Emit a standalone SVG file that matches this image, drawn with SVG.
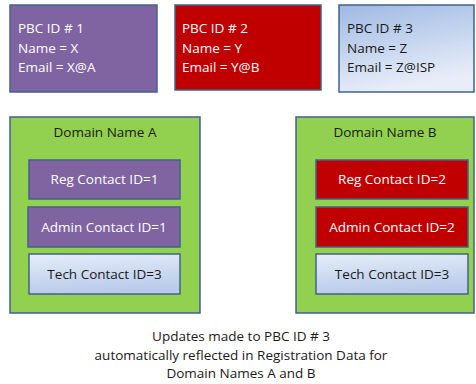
<svg xmlns="http://www.w3.org/2000/svg" width="476" height="384" viewBox="0 0 476 384">
<defs>
<linearGradient id="g3" x1="0" y1="0" x2="0.3" y2="1">
<stop offset="0" stop-color="#9fb9e3"/>
<stop offset="1" stop-color="#e8eef8"/>
</linearGradient>
<linearGradient id="gt" x1="0" y1="0" x2="0.2" y2="1">
<stop offset="0" stop-color="#e6edf8"/>
<stop offset="1" stop-color="#b8cbea"/>
</linearGradient>
<style>
rect{stroke:#41618f;stroke-width:1.5}
.pur{fill:#8064a2}
.red{fill:#c00000}
.grn{fill:#92d050}
.lb{fill:url(#g3)}
.tb{fill:url(#gt)}
text{font-family:"Open Sans","Liberation Sans",sans-serif;font-size:13.5px}
.w{fill:#ffffff}
.k{fill:#1a1a1a}
.c{text-anchor:middle}
</style>
</defs>
<g id="pbc1">
<rect class="pur" x="10" y="5" width="147" height="87"/>
<text class="w" x="18" y="33">PBC ID # 1</text>
<text class="w" x="18" y="53">Name = X</text>
<text class="w" x="18" y="72">Email = X@A</text>
</g>
<g id="pbc2">
<rect class="red" x="175" y="5" width="146" height="85"/>
<text class="w" x="182" y="33">PBC ID # 2</text>
<text class="w" x="182" y="53">Name = Y</text>
<text class="w" x="182" y="72">Email = Y@B</text>
</g>
<g id="pbc3">
<rect class="lb" x="339" y="5" width="135" height="87"/>
<text class="k" x="347" y="33">PBC ID # 3</text>
<text class="k" x="347" y="53">Name = Z</text>
<text class="k" x="347" y="72">Email = Z@ISP</text>
</g>
<g id="domainA">
<rect class="grn" x="10" y="117" width="190" height="196"/>
<text class="k c" x="105" y="137">Domain Name A</text>
</g>
<g id="regA">
<rect class="pur" x="29" y="160" width="151" height="39"/>
<text class="w c" x="104.5" y="184">Reg Contact ID=1</text>
</g>
<g id="adminA">
<rect class="pur" x="28" y="207" width="152" height="40"/>
<text class="w c" x="104" y="232">Admin Contact ID=1</text>
</g>
<g id="techA">
<rect class="tb" x="29" y="254" width="151" height="40"/>
<text class="k c" x="104.5" y="279">Tech Contact ID=3</text>
</g>
<g id="domainB">
<rect class="grn" x="296" y="117" width="178" height="196"/>
<text class="k c" x="385" y="137">Domain Name B</text>
</g>
<g id="regB">
<rect class="red" x="316" y="160" width="152" height="39"/>
<text class="w c" x="392" y="184">Reg Contact ID=2</text>
</g>
<g id="adminB">
<rect class="red" x="316" y="207" width="152" height="40"/>
<text class="w c" x="392" y="232">Admin Contact ID=2</text>
</g>
<g id="techB">
<rect class="tb" x="316" y="254" width="152" height="40"/>
<text class="k c" x="392" y="279">Tech Contact ID=3</text>
</g>
<g id="connectors"></g>
<g id="caption">
<text class="k c" x="241" y="341">Updates made to PBC ID # 3</text>
<text class="k c" x="241" y="360">automatically reflected in Registration Data for</text>
<text class="k c" x="241" y="378">Domain Names A and B</text>
</g>
</svg>
